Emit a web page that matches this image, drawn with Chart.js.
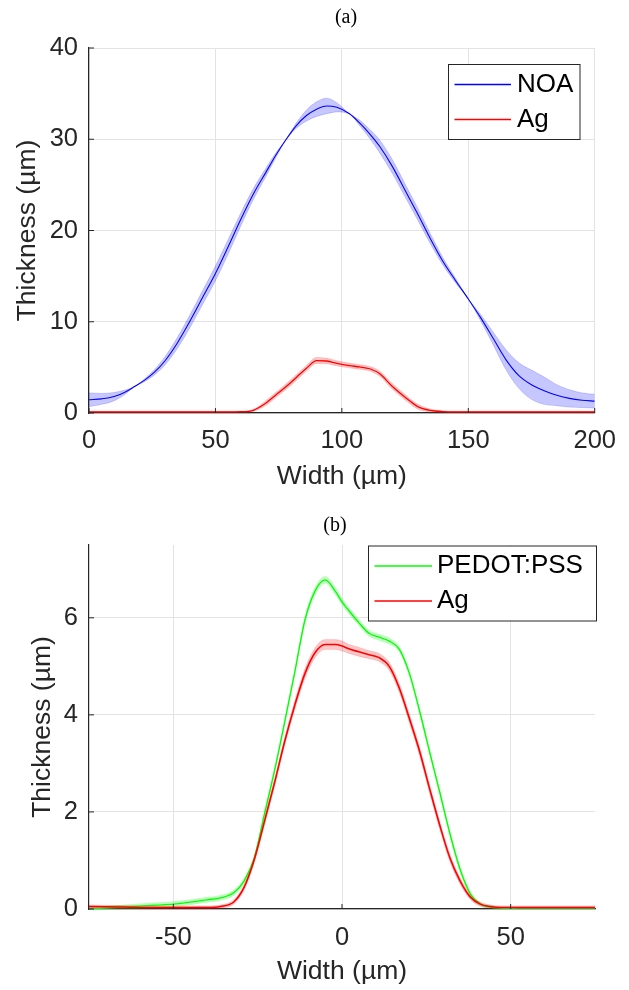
<!DOCTYPE html>
<html>
<head>
<meta charset="utf-8">
<script src="https://cdn.jsdelivr.net/npm/chart.js@4.4.1/dist/chart.umd.min.js"></script>
<style>
  html, body { margin: 0; padding: 0; background: #fff; }
  .panel { width: 629px; height: 495px; position: relative; }
</style>
</head>
<body>
<div class="panel"><canvas id="chartA" width="629" height="495"></canvas></div>
<div class="panel"><canvas id="chartB" width="629" height="495"></canvas></div>
<script>
// ---- (a) NOA / Ag ----
const widthA = [0, 5, 10, 14, 18, 22, 26, 30, 35, 40, 45, 50, 55, 60, 65, 70, 74, 78, 82, 86,
  90, 94, 98, 103, 107, 111, 115, 120, 125, 130, 135, 140, 145, 150, 155, 160, 165, 170, 175, 180,
  185, 190, 195, 200];
const noaMean = [1.45, 1.55, 1.8, 2.25, 2.9, 3.6, 4.5, 5.7, 7.7, 10.1, 12.7, 15.3, 18.2, 21.2, 24.0, 26.4, 28.3, 30.0, 31.5, 32.6,
  33.3, 33.65, 33.5, 32.8, 31.8, 30.6, 29.2, 27.0, 24.4, 21.8, 19.1, 16.6, 14.5, 12.5, 10.4, 8.1, 5.8, 4.1, 3.1, 2.45,
  1.95, 1.6, 1.4, 1.3];
const noaErr = [0.75, 0.6, 0.45, 0.25, 0.0, 0.15, 0.3, 0.45, 0.6, 0.7, 0.75, 0.8, 0.8, 0.7, 0.6, 0.45, 0.25, 0.0, 0.3, 0.6,
  0.8, 0.85, 0.5, 0.0, 0.3, 0.5, 0.7, 0.75, 0.7, 0.65, 0.55, 0.4, 0.25, 0.0, 0.35, 0.7, 1.1, 1.4, 1.6, 1.5,
  1.15, 0.95, 0.8, 0.75];
const agMeanA = [0.12, 0.12, 0.12, 0.12, 0.12, 0.12, 0.12, 0.12, 0.12, 0.12, 0.12, 0.12, 0.12, 0.14, 0.3, 1.1, 2.0, 2.9, 3.9, 4.9,
  5.75, 5.7, 5.45, 5.2, 5.05, 4.85, 4.3, 2.9, 1.73, 0.7, 0.28, 0.15, 0.12, 0.12, 0.12, 0.12, 0.12, 0.12, 0.12, 0.12,
  0.12, 0.12, 0.12, 0.12];
const agErrA = [0.06, 0.06, 0.06, 0.06, 0.06, 0.06, 0.06, 0.06, 0.06, 0.06, 0.06, 0.06, 0.06, 0.06, 0.1, 0.25, 0.28, 0.3, 0.3, 0.3,
  0.33, 0.3, 0.28, 0.25, 0.25, 0.25, 0.28, 0.3, 0.3, 0.25, 0.15, 0.08, 0.06, 0.06, 0.06, 0.06, 0.06, 0.06, 0.06, 0.06,
  0.06, 0.06, 0.06, 0.06];
const xTicksA = [0, 50, 100, 150, 200];
const yTicksA = [0, 10, 20, 30, 40];

// ---- (b) PEDOT:PSS / Ag ----
const widthB = [-75, -65, -55, -50, -45, -40, -36, -32, -29, -26, -23, -20, -17, -14, -11, -8, -5, -2, 0, 2,
  5, 8, 11, 14, 17, 20, 23, 26, 29, 32, 35, 38, 41, 44, 47, 50, 55, 65, 75];
const pedotMean = [0.0, 0.04, 0.08, 0.1, 0.14, 0.19, 0.23, 0.34, 0.58, 1.05, 1.95, 2.85, 3.85, 4.88, 5.95, 6.55, 6.78, 6.55, 6.33, 6.15,
  5.9, 5.68, 5.6, 5.52, 5.35, 4.85, 4.08, 3.23, 2.4, 1.55, 0.82, 0.32, 0.1, 0.04, 0.02, 0.01, 0.0, 0.0, 0.0];
const pedotErr = [0.03, 0.04, 0.05, 0.05, 0.05, 0.05, 0.05, 0.05, 0.05, 0.05, 0.05, 0.05, 0.05, 0.05, 0.06, 0.07, 0.07, 0.07, 0.06, 0.06,
  0.06, 0.06, 0.06, 0.06, 0.05, 0.05, 0.05, 0.05, 0.05, 0.05, 0.05, 0.04, 0.03, 0.02, 0.02, 0.02, 0.02, 0.02, 0.02];
const agMeanB = [0.05, 0.04, 0.03, 0.03, 0.03, 0.03, 0.05, 0.15, 0.45, 1.02, 1.8, 2.6, 3.45, 4.2, 4.85, 5.28, 5.45, 5.45, 5.42, 5.36,
  5.3, 5.24, 5.18, 5.0, 4.55, 3.92, 3.25, 2.47, 1.72, 1.05, 0.58, 0.25, 0.1, 0.05, 0.03, 0.03, 0.03, 0.03, 0.03];
const agErrB = [0.03, 0.03, 0.03, 0.03, 0.03, 0.03, 0.03, 0.04, 0.05, 0.06, 0.07, 0.07, 0.07, 0.08, 0.09, 0.1, 0.1, 0.1, 0.1, 0.09,
  0.09, 0.08, 0.08, 0.08, 0.08, 0.08, 0.08, 0.08, 0.07, 0.07, 0.06, 0.05, 0.04, 0.03, 0.03, 0.03, 0.03, 0.03, 0.03];
const xTicksB = [-50, 0, 50];
const yTicksB = [0, 2, 4, 6];

const textColor = '#262626';
const gridColor = '#e3e3e3';
Chart.defaults.font.family = "'Liberation Sans', Arial, Helvetica, sans-serif";

const pts = (xs, ys) => xs.map((x, i) => ({ x, y: ys[i] }));
const band = (xs, m, e, s) => xs.map((x, i) => ({ x, y: m[i] + s * e[i] }));

// mean line + shaded band (lower, upper filled to lower)
function shaded(label, xs, mean, err, color, fill, edge, lw, order) {
    const common = { pointRadius: 0, cubicInterpolationMode: 'monotone' };
    return [
        { ...common, label: label + '-lo', data: band(xs, mean, err, -1), borderColor: edge, borderWidth: 0.6, fill: false, order: order + 2 },
        { ...common, label: label + '-hi', data: band(xs, mean, err, 1), borderColor: edge, borderWidth: 0.6, backgroundColor: fill, fill: '-1', order: order + 2 },
        { ...common, label, data: pts(xs, mean), borderColor: color, borderWidth: lw, fill: false, order, inLegend: true }
    ];
}

// panel title "(a)" / "(b)"
const panelTitle = {
    id: 'panelTitle',
    afterDraw(chart, args, o) {
        const ctx = chart.ctx;
        ctx.save();
        ctx.fillStyle = '#000';
        ctx.font = "20px 'Liberation Serif', 'Times New Roman', serif";
        ctx.textAlign = 'center';
        ctx.textBaseline = 'middle';
        ctx.fillText(o.text, o.x, o.y);
        ctx.restore();
    }
};

// inward tick marks on left / bottom axes
const innerTicks = {
    id: 'innerTicks',
    afterDraw(chart) {
        const { ctx, chartArea: a, scales: { x, y } } = chart;
        ctx.save();
        ctx.strokeStyle = textColor;
        ctx.lineWidth = 1;
        ctx.beginPath();
        x.ticks.forEach(t => { const px = x.getPixelForValue(t.value); ctx.moveTo(px, a.bottom); ctx.lineTo(px, a.bottom - 5); });
        y.ticks.forEach(t => { const py = y.getPixelForValue(t.value); ctx.moveTo(a.left, py); ctx.lineTo(a.left + 5, py); });
        ctx.stroke();
        ctx.restore();
    }
};

// boxed legend like MATLAB
const boxLegend = {
    id: 'boxLegend',
    afterDraw(chart, args, o) {
        const ctx = chart.ctx;
        const items = chart.data.datasets.filter(d => d.inLegend);
        ctx.save();
        ctx.fillStyle = '#fff';
        ctx.fillRect(o.x, o.y, o.w, o.h);
        ctx.strokeStyle = '#262626';
        ctx.lineWidth = 1;
        ctx.strokeRect(o.x, o.y, o.w, o.h);
        ctx.font = "26px 'Liberation Sans', Arial, sans-serif";
        ctx.textBaseline = 'middle';
        items.forEach((d, i) => {
            const yy = o.y + o.row0 + i * o.rowGap;
            ctx.strokeStyle = d.borderColor;
            ctx.lineWidth = 1.3;
            ctx.beginPath();
            ctx.moveTo(o.x + o.line0, yy);
            ctx.lineTo(o.x + o.line1, yy);
            ctx.stroke();
            ctx.fillStyle = '#000';
            ctx.fillText(d.label, o.x + o.textX, yy);
        });
        ctx.restore();
    }
};

function axes(xr, yr, xTicks, yTicks, xH, yTitlePad, xTickPad) {
    return {
        x: {
            type: 'linear', min: xr[0], max: xr[1],
            afterBuildTicks: s => { s.ticks = xTicks.map(v => ({ value: v })); },
            afterFit: s => { s.height = xH; },
            ticks: { color: textColor, font: { size: 25.5 }, padding: xTickPad, maxRotation: 0, autoSkip: false, callback: v => String(v) },
            grid: { color: gridColor, drawTicks: false },
            border: { color: textColor, width: 1.2 },
            title: { display: true, text: 'Width (µm)', color: textColor, font: { size: 26.5 }, padding: { top: 0, bottom: 2 } }
        },
        y: {
            type: 'linear', min: yr[0], max: yr[1],
            afterBuildTicks: s => { s.ticks = yTicks.map(v => ({ value: v })); },
            afterFit: s => { s.width = 89; },
            ticks: { color: textColor, font: { size: 25.5 }, padding: 11, autoSkip: false, callback: v => String(v) },
            grid: { color: gridColor, drawTicks: false },
            border: { color: textColor, width: 1.2 },
            title: { display: true, text: 'Thickness (µm)', color: textColor, font: { size: 26.5 }, padding: { top: yTitlePad, bottom: 0 } }
        }
    };
}

new Chart(document.getElementById('chartA'), {
    type: 'line',
    data: {
        datasets: [
            ...shaded('NOA', widthA, noaMean, noaErr, '#0000ff', 'rgba(0,0,255,0.22)', 'rgba(0,0,255,0.3)', 1.1, 1),
            ...shaded('Ag', widthA, agMeanA, agErrA, '#ff0000', 'rgba(255,0,0,0.22)', 'rgba(255,0,0,0.3)', 1.3, 0)
        ]
    },
    options: {
        responsive: false, animation: false,
        layout: { padding: { top: 48, right: 34, left: 0, bottom: 0 } },
        scales: axes([0, 200], [0, 40], xTicksA, yTicksA, 82, 12, 13),
        plugins: {
            legend: { display: false }, tooltip: { enabled: false },
            panelTitle: { text: '(a)', x: 346, y: 18 },
            boxLegend: { x: 448.5, y: 64.5, w: 131.5, h: 75, row0: 20, rowGap: 35, line0: 6, line1: 62.5, textX: 68.5 }
        }
    },
    plugins: [panelTitle, innerTicks, boxLegend]
});

new Chart(document.getElementById('chartB'), {
    type: 'line',
    data: {
        datasets: [
            ...shaded('PEDOT:PSS', widthB, pedotMean, pedotErr, '#00ff00', 'rgba(0,255,0,0.22)', 'rgba(0,255,0,0.3)', 1.3, 1),
            ...shaded('Ag', widthB, agMeanB, agErrB, '#ff0000', 'rgba(255,0,0,0.22)', 'rgba(255,0,0,0.3)', 1.6, 0)
        ]
    },
    options: {
        responsive: false, animation: false,
        layout: { padding: { top: 50, right: 34, left: 0, bottom: 0 } },
        scales: axes([-75, 75], [0, 7.5], xTicksB, yTicksB, 81, 27, 14),
        plugins: {
            legend: { display: false }, tooltip: { enabled: false },
            panelTitle: { text: '(b)', x: 335, y: 31 },
            boxLegend: { x: 368.5, y: 51, w: 228, h: 75, row0: 20, rowGap: 35, line0: 6, line1: 63.5, textX: 68.5 }
        }
    },
    plugins: [panelTitle, innerTicks, boxLegend]
});
</script>
</body>
</html>
